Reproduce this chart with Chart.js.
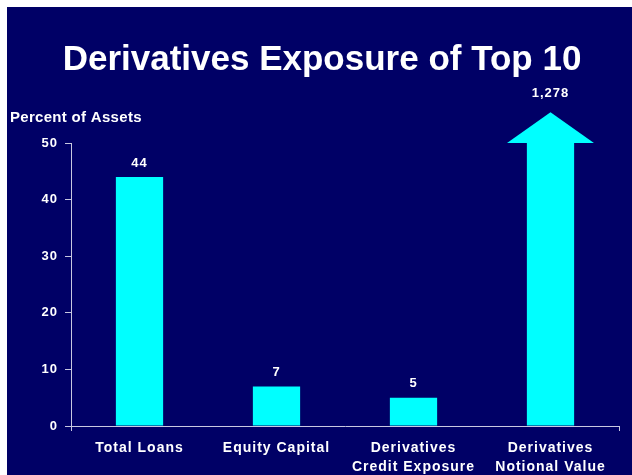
<!DOCTYPE html>
<html>
<head>
<meta charset="utf-8">
<script src="https://cdn.jsdelivr.net/npm/chart.js@4.4.1/dist/chart.umd.min.js"></script>
<style>
  html, body { margin: 0; padding: 0; background: #ffffff; }
  #frame { position: absolute; left: 7px; top: 7px; width: 625px; height: 468px; background: #000066; }
  canvas { display: block; }
</style>
</head>
<body>
<div id="frame"><canvas id="chart" width="625" height="468"></canvas></div>
<script>
const categories = [
    ['Total Loans'],
    ['Equity Capital'],
    ['Derivatives', 'Credit Exposure'],
    ['Derivatives', 'Notional Value']
];
const values = [44, 7, 5, 1278];
const yTicks = [0, 10, 20, 30, 40, 50];

const titleText = 'Derivatives Exposure of Top 10';
const axisCaption = 'Percent of Assets';

const fontFamily = "Arial, 'Liberation Sans', sans-serif";
const axisColor = '#c8c8e0';
const barColor = '#00ffff';

// titles, value labels and the arrow for the off-scale bar
const decorPlugin = {
    id: 'decor',
    beforeDraw: function(chart) {
        chart.ctx.letterSpacing = '1px';
    },
    afterDatasetsDraw: function(chart) {
        var ctx = chart.ctx,
            area = chart.chartArea,
            yMax = chart.scales.y.max,
            meta = chart.getDatasetMeta(0);

        ctx.save();
        ctx.fillStyle = '#ffffff';
        ctx.font = 'bold 13px ' + fontFamily;
        ctx.textAlign = 'center';
        ctx.textBaseline = 'middle';
        ctx.letterSpacing = '1px';

        meta.data.forEach(function(bar, i) {
            var v = values[i];
            var top = bar.y;
            var gap = 14;
            if (v > yMax) {
                // bar runs off the scale: cap it with an arrowhead
                var half = bar.width * 0.92,
                    headH = bar.width * 0.65;
                ctx.fillStyle = barColor;
                ctx.beginPath();
                ctx.moveTo(bar.x - half, area.top);
                ctx.lineTo(bar.x, area.top - headH);
                ctx.lineTo(bar.x + half, area.top);
                ctx.closePath();
                ctx.fill();
                ctx.fillStyle = '#ffffff';
                top = area.top - headH;
                gap = 19;
            }
            ctx.fillText(v.toLocaleString('en-US'), bar.x, top - gap);
        });
        ctx.restore();
    },
    afterDraw: function(chart) {
        var ctx = chart.ctx;
        ctx.save();
        ctx.fillStyle = '#ffffff';
        ctx.textBaseline = 'alphabetic';

        ctx.letterSpacing = '0px';
        ctx.font = 'bold 35px ' + fontFamily;
        ctx.textAlign = 'center';
        ctx.fillText(titleText, 315, 63);

        ctx.letterSpacing = '0.3px';
        ctx.font = 'bold 15px ' + fontFamily;
        ctx.textAlign = 'left';
        ctx.fillText(axisCaption, 3, 115);
        ctx.restore();
    }
};

new Chart(document.getElementById('chart'), {
    type: 'bar',
    data: {
        labels: categories,
        datasets: [{
            data: values,
            backgroundColor: barColor,
            borderWidth: 0,
            barPercentage: 0.345,
            categoryPercentage: 1
        }]
    },
    options: {
        responsive: false,
        animation: false,
        layout: {
            padding: { top: 136, right: 13, left: 0, bottom: 0 }
        },
        plugins: {
            legend: { display: false },
            tooltip: { enabled: false },
            title: { display: false }
        },
        scales: {
            x: {
                offset: true,
                afterFit: function(scale) { scale.height = 49; },
                border: { color: axisColor, width: 1 },
                grid: {
                    drawOnChartArea: false,
                    offset: true,
                    tickLength: 5,
                    color: function(c) {
                        return (c.index === 0 || c.tick === undefined) ? axisColor : 'rgba(0,0,0,0)';
                    }
                },
                ticks: {
                    color: '#ffffff',
                    padding: 8,
                    maxRotation: 0,
                    font: { family: fontFamily, size: 14, weight: 'bold', lineHeight: 1.35 }
                }
            },
            y: {
                min: 0,
                max: 50,
                afterFit: function(scale) { scale.width = 64; },
                afterBuildTicks: function(scale) {
                    scale.ticks = yTicks.map(function(v) { return { value: v }; });
                },
                border: { color: axisColor, width: 1 },
                grid: {
                    drawOnChartArea: false,
                    tickLength: 6,
                    color: axisColor
                },
                ticks: {
                    color: '#ffffff',
                    padding: 7,
                    font: { family: fontFamily, size: 13, weight: 'bold' }
                }
            }
        }
    },
    plugins: [decorPlugin]
});
</script>
</body>
</html>
